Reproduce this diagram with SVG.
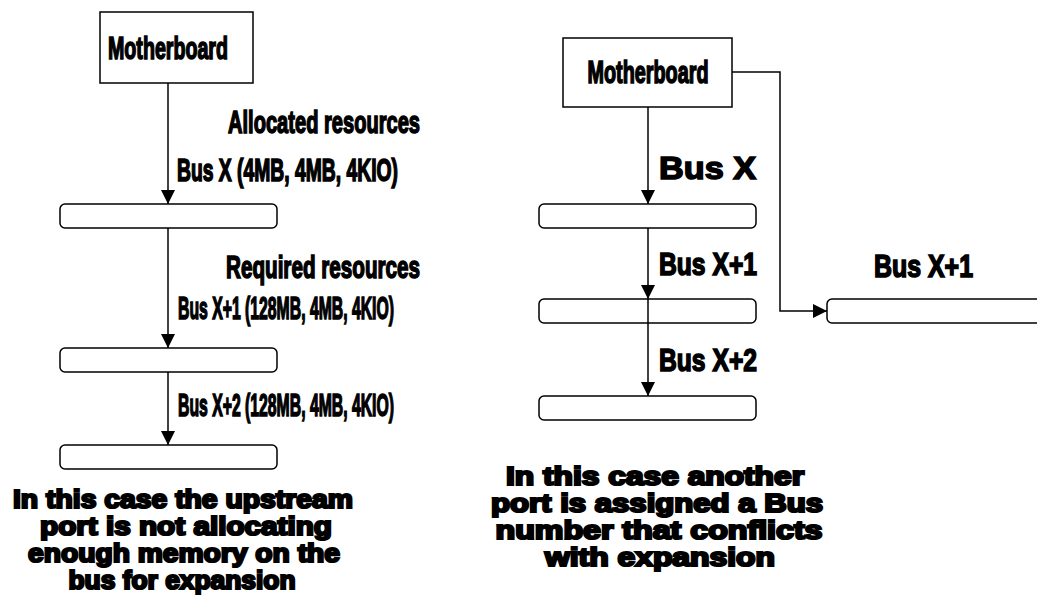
<svg xmlns="http://www.w3.org/2000/svg" width="1037" height="611" viewBox="0 0 1037 611">
<style>
.box{fill:#fff;stroke:#000;stroke-width:1.5}
.bar{fill:#fff;stroke:#000;stroke-width:1.5}
.conn{fill:none;stroke:#000;stroke-width:1.5}
.cond{font-family:"Liberation Sans",Arial,sans-serif;font-weight:bold;font-size:31px;fill:#000;stroke:#000;stroke-width:1.6}
.big{font-family:"Liberation Sans",Arial,sans-serif;font-weight:bold;font-size:32px;fill:#000;stroke:#000;stroke-width:1.6}
.note{font-family:"Liberation Sans",Arial,sans-serif;font-weight:bold;font-size:25px;fill:#000;stroke:#000;stroke-width:2.2;text-anchor:middle}
</style>
<defs>
<marker id="arr" viewBox="0 0 14 14" refX="14" refY="7" markerWidth="14" markerHeight="14" markerUnits="userSpaceOnUse" orient="auto">
<path d="M0,0 L14,7 L0,14 Z" fill="#000"/>
</marker>
</defs>
<rect width="1037" height="611" fill="#fff"/>

<g id="mb-left">
<rect class="box" x="100" y="12" width="153" height="71"/>
<text class="cond" x="168" y="59" text-anchor="middle" textLength="120" lengthAdjust="spacingAndGlyphs">Motherboard</text>
</g>
<g id="bar-left-1"><rect class="bar" x="60" y="204" width="217" height="24" rx="5"/></g>
<g id="bar-left-2"><rect class="bar" x="60" y="348" width="217" height="24" rx="5"/></g>
<g id="bar-left-3"><rect class="bar" x="60" y="445" width="217" height="24" rx="5"/></g>

<g id="mb-right">
<rect class="box" x="563" y="38" width="169" height="69"/>
<text class="cond" x="648" y="83" text-anchor="middle" textLength="121" lengthAdjust="spacingAndGlyphs">Motherboard</text>
</g>
<g id="bar-right-1"><rect class="bar" x="539" y="204" width="217" height="24" rx="5"/></g>
<g id="bar-right-2"><rect class="bar" x="539" y="299" width="217" height="24" rx="5"/></g>
<g id="bar-right-3"><rect class="bar" x="539" y="396" width="217" height="24" rx="5"/></g>
<g id="bar-far-right"><rect class="bar" x="827" y="299" width="230" height="24" rx="5"/></g>

<g id="connectors">
<path class="conn" d="M168 83 V204" marker-end="url(#arr)"/>
<path class="conn" d="M168 228 V348" marker-end="url(#arr)"/>
<path class="conn" d="M168 372 V445" marker-end="url(#arr)"/>
<path class="conn" d="M648 107 V204" marker-end="url(#arr)"/>
<path class="conn" d="M648 228 V299" marker-end="url(#arr)"/>
<path class="conn" d="M648 299 V396" marker-end="url(#arr)"/>
<path class="conn" d="M732 72 H780 V311 H827" marker-end="url(#arr)"/>
</g>

<g id="labels">
<text class="cond" x="228" y="133" textLength="192" lengthAdjust="spacingAndGlyphs">Allocated resources</text>
<text class="cond" x="177" y="181" textLength="221" lengthAdjust="spacingAndGlyphs">Bus X (4MB, 4MB, 4KIO)</text>
<text class="cond" x="226" y="278" textLength="194" lengthAdjust="spacingAndGlyphs">Required resources</text>
<text class="cond" x="178" y="319" textLength="216" lengthAdjust="spacingAndGlyphs">Bus X+1 (128MB, 4MB, 4KIO)</text>
<text class="cond" x="178" y="416" textLength="216" lengthAdjust="spacingAndGlyphs">Bus X+2 (128MB, 4MB, 4KIO)</text>
<text class="big" x="659" y="179" textLength="97" lengthAdjust="spacingAndGlyphs">Bus X</text>
<text class="cond" x="659" y="275" textLength="98" lengthAdjust="spacingAndGlyphs">Bus X+1</text>
<text class="cond" x="659" y="371" textLength="98" lengthAdjust="spacingAndGlyphs">Bus X+2</text>
<text class="cond" x="874" y="277" textLength="99" lengthAdjust="spacingAndGlyphs">Bus X+1</text>
</g>

<g id="note-left">
<text class="note" x="183" y="508" textLength="340" lengthAdjust="spacingAndGlyphs">In this case the upstream</text>
<text class="note" x="186" y="535" textLength="292" lengthAdjust="spacingAndGlyphs">port is not allocating</text>
<text class="note" x="184" y="562" textLength="312" lengthAdjust="spacingAndGlyphs">enough memory on the</text>
<text class="note" x="182" y="589" textLength="227" lengthAdjust="spacingAndGlyphs">bus for expansion</text>
</g>
<g id="note-right">
<text class="note" x="655" y="485" textLength="298" lengthAdjust="spacingAndGlyphs">In this case another</text>
<text class="note" x="657" y="512" textLength="332" lengthAdjust="spacingAndGlyphs">port is assigned a Bus</text>
<text class="note" x="659" y="539" textLength="327" lengthAdjust="spacingAndGlyphs">number that conflicts</text>
<text class="note" x="660" y="566" textLength="230" lengthAdjust="spacingAndGlyphs">with expansion</text>
</g>
</svg>
